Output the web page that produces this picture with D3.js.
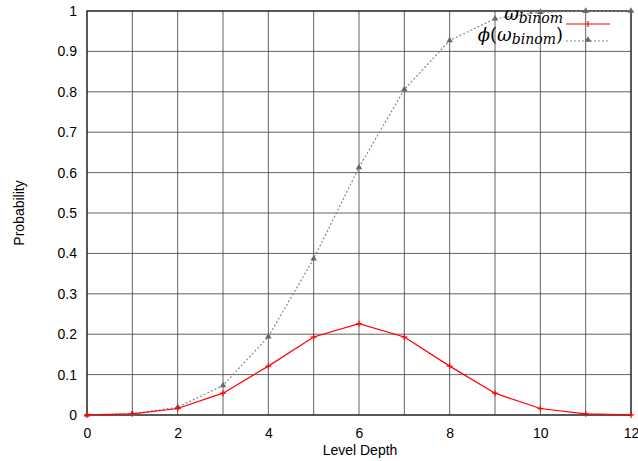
<!DOCTYPE html>
<html><head><meta charset="utf-8">
<script src="https://cdn.jsdelivr.net/npm/d3@7"></script>
<style>body{margin:0;background:#fff}svg{display:block}</style>
</head><body>
<script>
const depths = [0,1,2,3,4,5,6,7,8,9,10,11,12];
const omegaBinom = [0.0002,0.003,0.016,0.054,0.121,0.193,0.226,0.193,0.121,0.054,0.016,0.003,0.0002];
const phiOmega = [0.0002,0.003,0.019,0.073,0.194,0.387,0.613,0.806,0.927,0.981,0.997,0.9998,1.0];
const xTickLabels = [0,2,4,6,8,10,12];
const yTickLabels = [0,0.1,0.2,0.3,0.4,0.5,0.6,0.7,0.8,0.9,1];

const W=638,H=461;
const m={l:87,r:7,t:11,b:46};
const sans="Liberation Sans, Arial, sans-serif";
const svg=d3.select("body").append("svg").attr("width",W).attr("height",H);
const x=d3.scaleLinear().domain([0,12]).range([m.l,W-m.r]);
const y=d3.scaleLinear().domain([0,1]).range([H-m.b,m.t]);

// grid
const g=svg.append("g");
g.selectAll("line.vx").data(d3.range(1,12)).join("line")
 .attr("x1",d=>x(d)).attr("x2",d=>x(d)).attr("y1",y(0)).attr("y2",y(1))
 .attr("stroke","#3a3a3a").attr("stroke-width",0.8);
g.selectAll("line.hy").data(yTickLabels.slice(1,-1)).join("line")
 .attr("y1",d=>y(d)).attr("y2",d=>y(d)).attr("x1",x(0)).attr("x2",x(12))
 .attr("stroke","#3a3a3a").attr("stroke-width",0.8);

// axes
const xa=svg.append("g").attr("transform",`translate(0,${y(0)})`)
 .call(d3.axisBottom(x).tickValues(xTickLabels).tickSize(0).tickPadding(10).tickFormat(d3.format("d")));
const ya=svg.append("g").attr("transform",`translate(${x(0)},0)`)
 .call(d3.axisLeft(y).tickValues(yTickLabels).tickSize(0).tickPadding(10).tickFormat(d=>String(d)));
[xa,ya].forEach(a=>{a.select(".domain").remove();a.attr("font-size",null).attr("font-family",null);
 a.selectAll("text").style("font-size","14px").attr("fill","#000").style("font-family",sans);});
xa.selectAll("text").attr("dy","0.9em");

// border
svg.append("rect").attr("x",x(0)).attr("y",y(1)).attr("width",x(12)-x(0)).attr("height",y(0)-y(1))
 .attr("fill","none").attr("stroke","#222").attr("stroke-width",1.5);

// phi line
svg.append("path").datum(depths.map((d,i)=>[d,phiOmega[i]]))
 .attr("d",d3.line().x(d=>x(d[0])).y(d=>y(d[1])))
 .attr("fill","none").attr("stroke","#888").attr("stroke-width",1.2).attr("stroke-dasharray","2,2");
const tri=d3.symbol().type(d3.symbolTriangle).size(18);
svg.selectAll("path.tri").data(depths.map((d,i)=>[d,phiOmega[i]])).join("path")
 .attr("transform",d=>`translate(${x(d[0])},${y(d[1])})`).attr("d",tri).attr("fill","#666");

// omega line
svg.append("path").datum(depths.map((d,i)=>[d,omegaBinom[i]]))
 .attr("d",d3.line().x(d=>x(d[0])).y(d=>y(d[1])))
 .attr("fill","none").attr("stroke","#ff0000").attr("stroke-width",1.2);
svg.selectAll("g.plus").data(depths.map((d,i)=>[d,omegaBinom[i]])).join("g")
 .attr("transform",d=>`translate(${x(d[0])},${y(d[1])})`)
 .each(function(){const s=d3.select(this);
  s.append("line").attr("x1",-3).attr("x2",3).attr("stroke","#f00").attr("stroke-width",1.2);
  s.append("line").attr("y1",-3).attr("y2",3).attr("stroke","#f00").attr("stroke-width",1.2);});

// legend
const lg=svg.append("g");
const ser="DejaVu Serif, Liberation Serif, serif";
const t1=lg.append("text").attr("x",563).attr("y",20).attr("text-anchor","end").style("font-family",ser).style("font-style","italic").style("font-size","18px");
t1.append("tspan").text("ω");
t1.append("tspan").style("font-size","14px").attr("dy",3).text("binom");
const t2=lg.append("text").attr("x",563).attr("y",41).attr("text-anchor","end").style("font-family",ser).style("font-size","18px");
t2.append("tspan").style("font-style","italic").text("ϕ");
t2.append("tspan").text("(");
t2.append("tspan").style("font-style","italic").text("ω");
t2.append("tspan").style("font-style","italic").style("font-size","14px").attr("dy",3).text("binom");
t2.append("tspan").attr("dy",-3).text(")");
lg.append("line").attr("x1",566).attr("x2",610).attr("y1",24).attr("y2",24).attr("stroke","#f00").attr("stroke-width",1.2);
lg.append("line").attr("x1",588).attr("x2",588).attr("y1",21).attr("y2",27).attr("stroke","#f00").attr("stroke-width",1.2);
lg.append("line").attr("x1",566).attr("x2",610).attr("y1",41).attr("y2",41).attr("stroke","#888").attr("stroke-width",1.2).attr("stroke-dasharray","2,2");
lg.append("path").attr("transform","translate(588,40)").attr("d",tri).attr("fill","#666");

// axis titles
svg.append("text").attr("x",360).attr("y",455).attr("text-anchor","middle").style("font-family",sans).style("font-size","14px").text("Level Depth");
svg.append("text").attr("transform","translate(24,213) rotate(-90)").attr("text-anchor","middle").style("font-family",sans).style("font-size","14px").text("Probability");
</script>
</body></html>
